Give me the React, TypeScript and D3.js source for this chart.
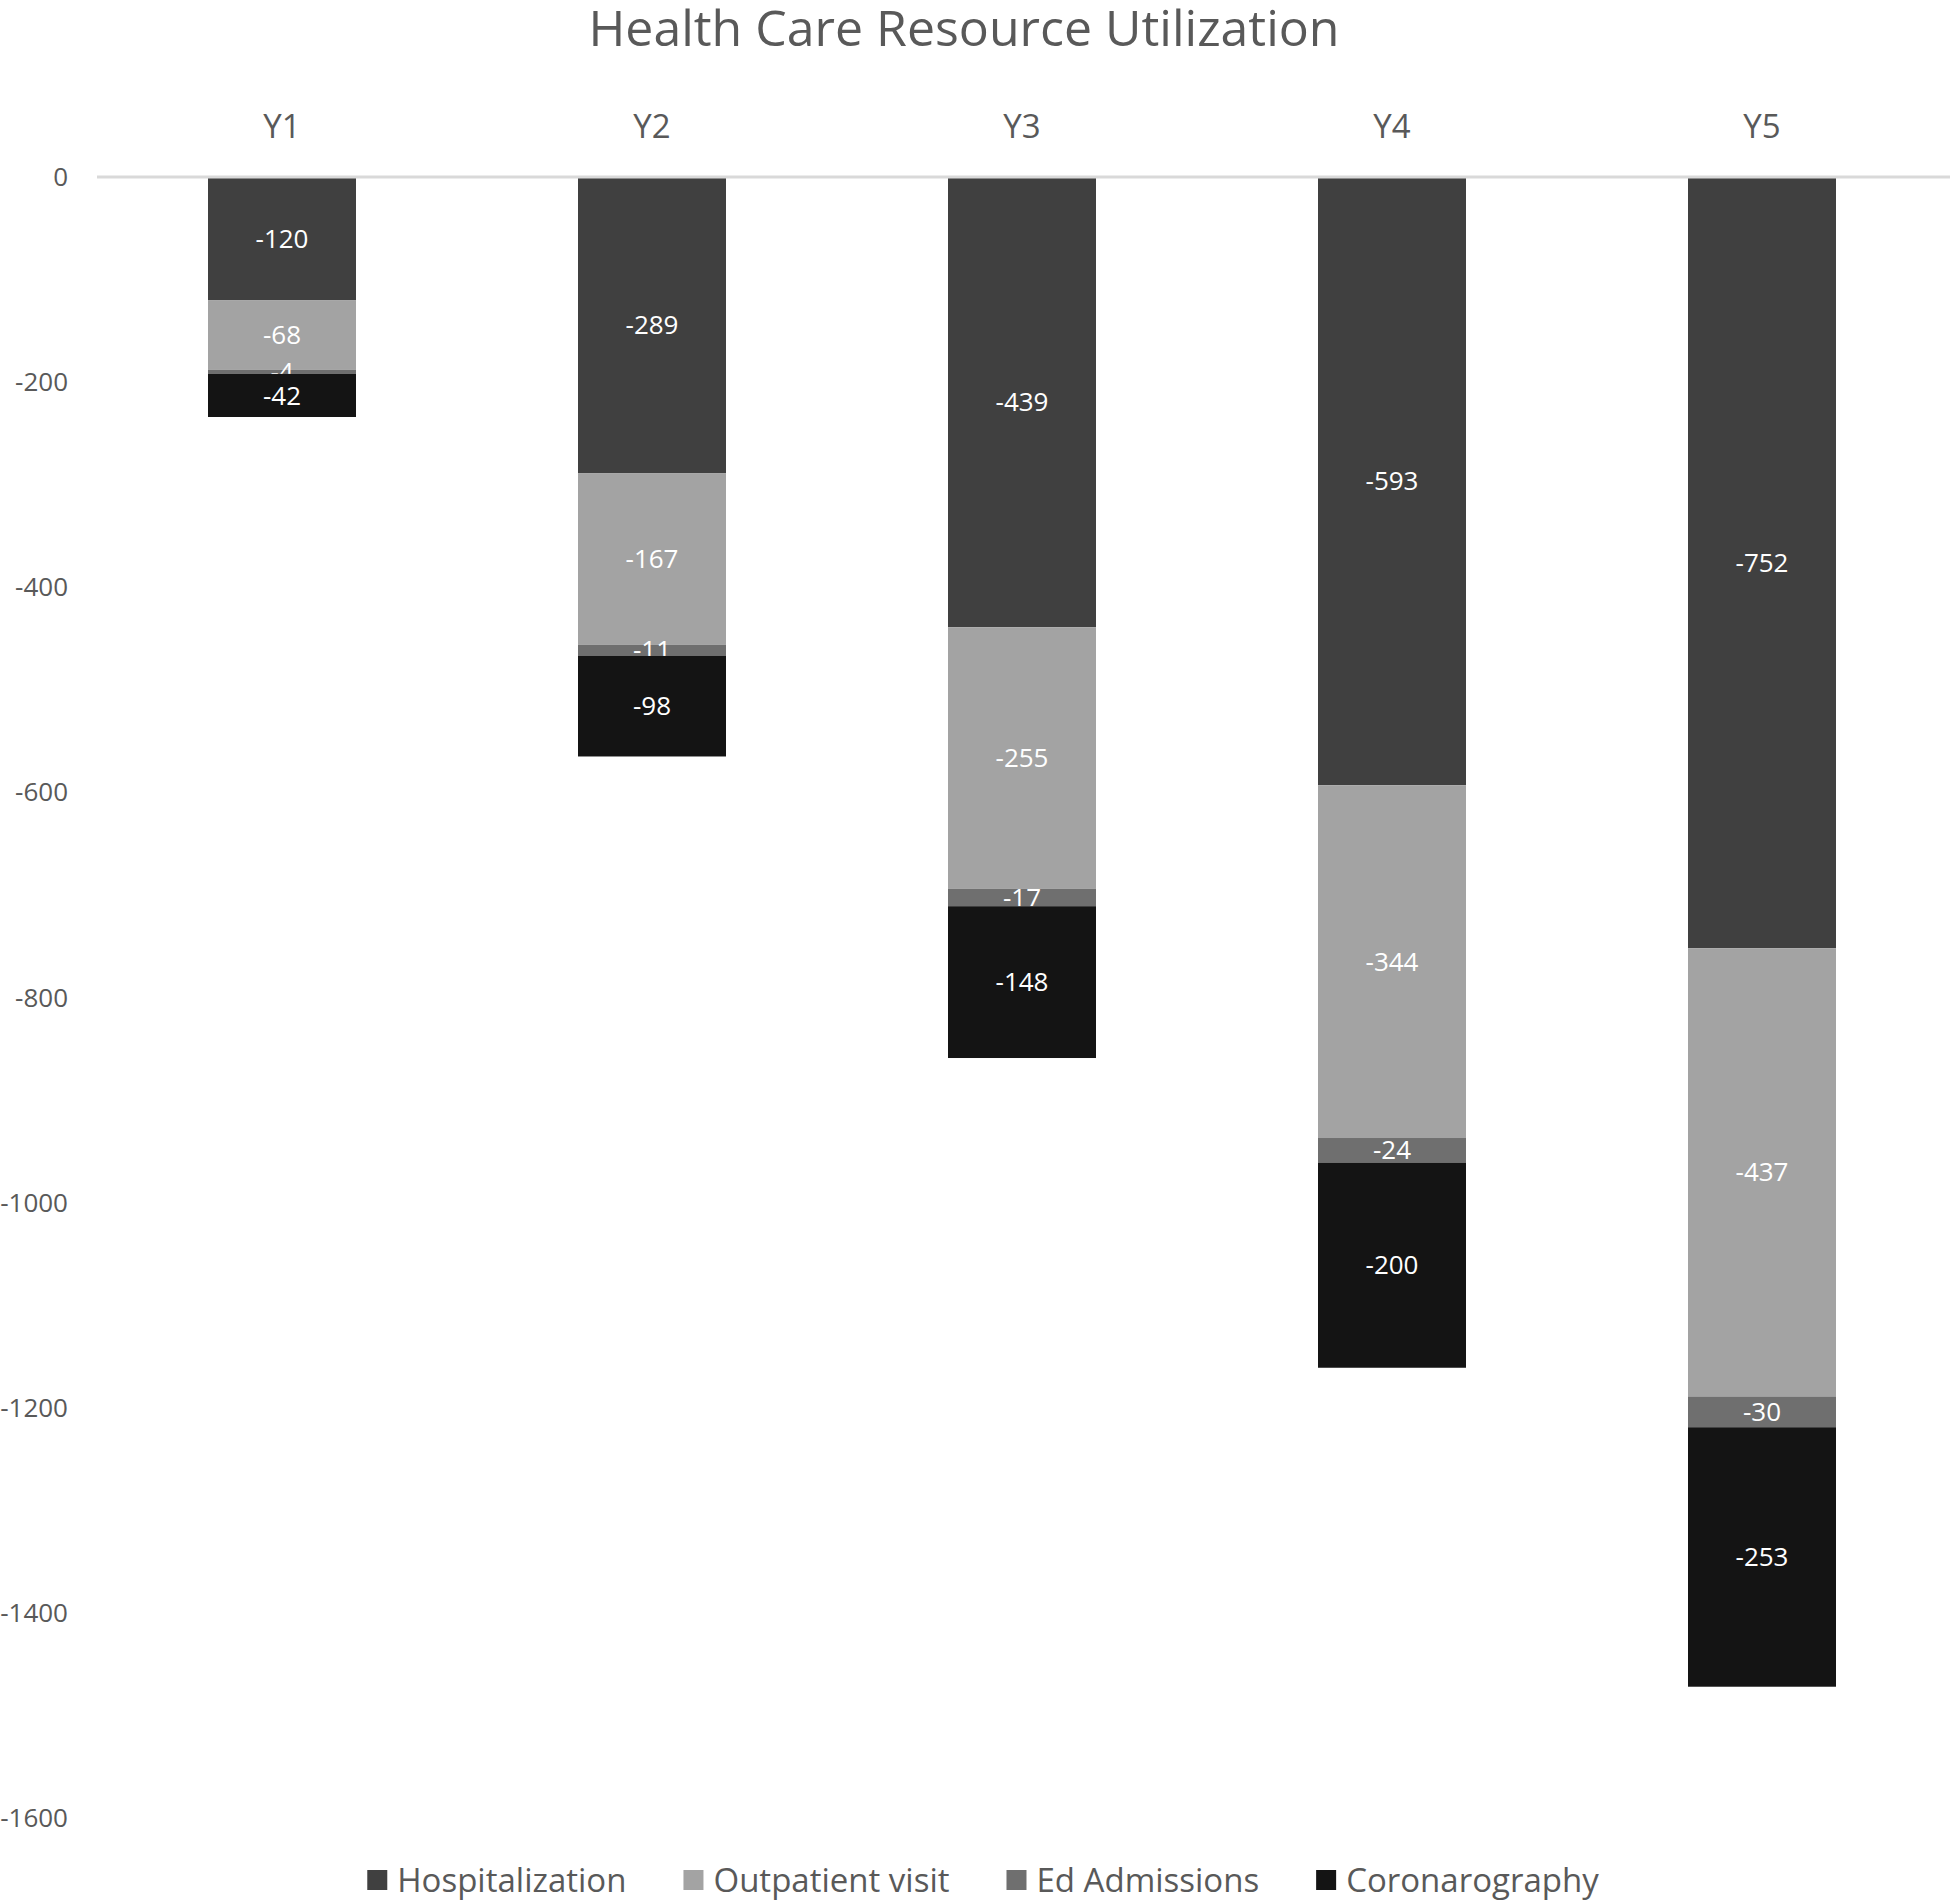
import React, { useEffect, useRef } from "react";
import * as d3 from "d3";

const categories = ["Y1", "Y2", "Y3", "Y4", "Y5"];
const seriesNames = ["Hospitalization", "Outpatient visit", "Ed Admissions", "Coronarography"];
const hospitalization = [-120, -289, -439, -593, -752];
const outpatientVisit = [-68, -167, -255, -344, -437];
const edAdmissions = [-4, -11, -17, -24, -30];
const coronarography = [-42, -98, -148, -200, -253];
const yTicks = [0, -200, -400, -600, -800, -1000, -1200, -1400, -1600];
const seriesColors = ["#404040", "#a3a3a3", "#6f6f6f", "#141414"];
const title = "Health Care Resource Utilization";

const W = 1950;
const H = 1902;
const FONT = "'Open Sans', 'DejaVu Sans', sans-serif";

export default function App() {
  const ref = useRef<SVGSVGElement | null>(null);

  useEffect(() => {
    const svg = d3.select(ref.current);
    svg.selectAll("*").remove();

    const seriesValues = [hospitalization, outpatientVisit, edAdmissions, coronarography];
    const plotLeft = 97;
    const plotRight = 1947;
    const y0 = 177;
    const y1 = 1818;

    const x = d3
      .scaleBand<string>()
      .domain(categories)
      .range([plotLeft, plotRight])
      .paddingInner(0.6)
      .paddingOuter(0.3);
    const y = d3.scaleLinear().domain([0, -1600]).range([y0, y1]);

    // title
    svg
      .append("text")
      .attr("x", 964)
      .attr("y", 46)
      .attr("text-anchor", "middle")
      .attr("font-family", FONT)
      .attr("font-size", 50)
      .attr("font-weight", 400)
      .attr("fill", "#595959")
      .text(title);

    // y tick labels
    svg
      .append("g")
      .selectAll("text")
      .data(yTicks)
      .join("text")
      .attr("x", 68)
      .attr("y", (d) => y(d))
      .attr("dy", "0.35em")
      .attr("text-anchor", "end")
      .attr("font-family", FONT)
      .attr("font-size", 26)
      .attr("fill", "#595959")
      .text((d) => String(d));

    // category labels (top)
    svg
      .append("g")
      .selectAll("text")
      .data(categories)
      .join("text")
      .attr("x", (d) => (x(d) as number) + x.bandwidth() / 2)
      .attr("y", 138)
      .attr("text-anchor", "middle")
      .attr("font-family", FONT)
      .attr("font-size", 33)
      .attr("fill", "#595959")
      .text((d) => d);

    // stacked bars
    const gBars = svg.append("g");
    categories.forEach((c, ci) => {
      let acc = 0;
      seriesValues.forEach((vals, si) => {
        const v = vals[ci];
        const top = acc;
        const bottom = acc + v;
        acc = bottom;
        gBars
          .append("rect")
          .attr("x", x(c) as number)
          .attr("y", y(top))
          .attr("width", x.bandwidth())
          .attr("height", y(bottom) - y(top))
          .attr("fill", seriesColors[si]);
        gBars
          .append("text")
          .attr("x", (x(c) as number) + x.bandwidth() / 2)
          .attr("y", (y(top) + y(bottom)) / 2)
          .attr("dy", "0.35em")
          .attr("text-anchor", "middle")
          .attr("font-family", FONT)
          .attr("font-size", 26)
          .attr("fill", "#ffffff")
          .text(String(v));
      });
    });

    // zero line
    svg
      .append("line")
      .attr("x1", plotLeft)
      .attr("x2", 1950)
      .attr("y1", y(0))
      .attr("y2", y(0))
      .attr("stroke", "#d9d9d9")
      .attr("stroke-width", 3);

    // legend
    const legend = svg.append("g");
    const sq = 20;
    const gapSqText = 10;
    const gapItems = 57;
    const items = seriesNames.map((name, i) => {
      const g = legend.append("g");
      g.append("rect")
        .attr("x", 0)
        .attr("y", -sq / 2)
        .attr("width", sq)
        .attr("height", sq)
        .attr("fill", seriesColors[i]);
      const t = g
        .append("text")
        .attr("x", sq + gapSqText)
        .attr("y", 0)
        .attr("dy", "0.35em")
        .attr("font-family", FONT)
        .attr("font-size", 33)
        .attr("fill", "#595959")
        .text(name);
      const w = (t.node() as SVGTextElement).getComputedTextLength();
      return { g, width: sq + gapSqText + w };
    });
    const total = d3.sum(items, (d) => d.width) + gapItems * (items.length - 1);
    let cx = 983 - total / 2;
    items.forEach((it) => {
      it.g.attr("transform", `translate(${cx},1880)`);
      cx += it.width + gapItems;
    });
  }, []);

  return (
    <svg
      ref={ref}
      width={W}
      height={H}
      style={{ position: "absolute", left: 0, top: 0, background: "#ffffff" }}
    />
  );
}
